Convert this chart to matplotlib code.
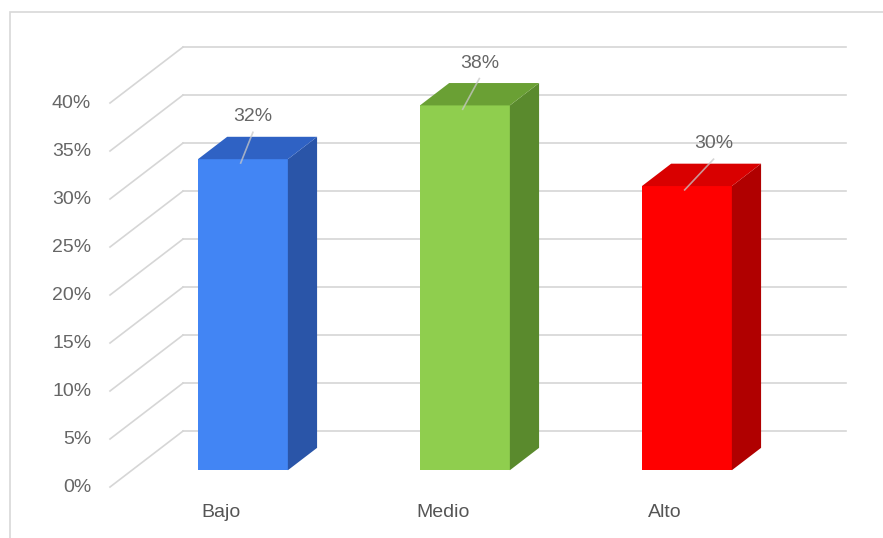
import matplotlib.pyplot as plt
from matplotlib.patches import Polygon, Rectangle

categories = ["Bajo", "Medio", "Alto"]
values = [32.4, 38.0, 29.6]
value_labels = ["32%", "38%", "30%"]
ticks = [0, 5, 10, 15, 20, 25, 30, 35, 40]
tick_labels = ["0%", "5%", "10%", "15%", "20%", "25%", "30%", "35%", "40%"]

front_colors = ["#4285f4", "#8fce4e", "#ff0000"]
top_colors = ["#2f62c4", "#6aa034", "#d90000"]
side_colors = ["#2a55a8", "#5a8a2d", "#b00000"]
label_dx = [0.045, 0.065, 0.12]

# fake 3d: depth offset of the whole floor, in data units
DX = 0.329
DY = 5.83
D0, D1 = 0.3, 0.7
W = 0.405
dd = D1 - D0

plt.rcParams['font.family'] = ['Liberation Sans', 'DejaVu Sans']
fig = plt.figure(figsize=(8.83, 5.38), dpi=100)
ax = fig.add_axes([0, 0, 1, 1])
ax.set_xlim(-0.9955, 2.982)
ax.set_ylim(-5.31, 50.73)
ax.axis("off")

fig.patches.append(Rectangle((10 / 883, -0.1), 1.2, 1.1 - 12 / 538, transform=fig.transFigure,
                             fill=False, edgecolor="#d8d8d8", linewidth=1.2))

grid_c = "#d6d6d6"
for t, lab in zip(ticks, tick_labels):
    ax.plot([-0.5, -0.5 + DX], [t, t + DY], color=grid_c, lw=1.2, zorder=1)
    ax.plot([-0.5 + DX, 2.485 + DX], [t + DY, t + DY], color=grid_c, lw=1.2, zorder=1)
    ax.text(-0.585, t, lab, ha="right", va="center", fontsize=14, color="#666666")

xs = [i + D0 * DX for i in range(len(categories))]
ax.bar(xs, values, width=W, bottom=D0 * DY, color=front_colors, zorder=3)

for i, v in enumerate(values):
    x0 = xs[i] - W / 2
    y0 = D0 * DY
    side = [(x0 + W, y0), (x0 + W + dd * DX, y0 + dd * DY),
            (x0 + W + dd * DX, y0 + dd * DY + v), (x0 + W, y0 + v)]
    top = [(x0, y0 + v), (x0 + W, y0 + v),
           (x0 + W + dd * DX, y0 + v + dd * DY), (x0 + dd * DX, y0 + v + dd * DY)]
    ax.add_patch(Polygon(side, closed=True, facecolor=side_colors[i], edgecolor="none", zorder=3))
    ax.add_patch(Polygon(top, closed=True, facecolor=top_colors[i], edgecolor="none", zorder=3))

    ytop = y0 + v
    ax.plot([xs[i] - 0.01, xs[i] + label_dx[i]], [ytop - 0.4, ytop + 2.8],
            color="#c8c8c8", alpha=0.75, lw=1.2, zorder=4)
    ax.text(xs[i] + label_dx[i], ytop + 4.4, value_labels[i], ha="center", va="center",
            fontsize=14, color="#666666", zorder=5)

for i, c in enumerate(categories):
    ax.text(i, -2.7, c, ha="center", va="center", fontsize=14, color="#555555")

fig.savefig("out.png", dpi=100)
